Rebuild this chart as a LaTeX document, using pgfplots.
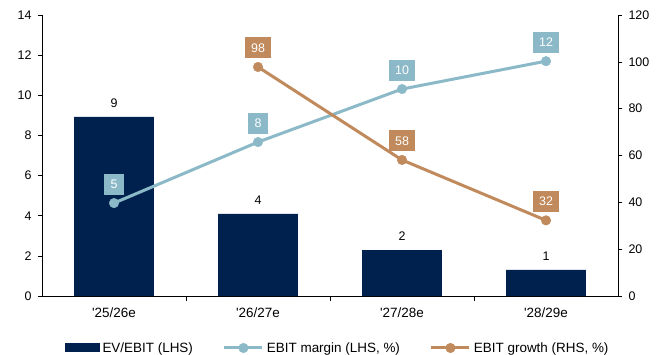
\documentclass[border=0pt]{standalone}
\usepackage{fontspec}
\setmainfont{Liberation Sans}
\usepackage{pgfplots}
\pgfplotsset{compat=1.18}

\definecolor{evnavy}{RGB}{0,32,78}
\definecolor{marginblue}{RGB}{139,185,200}
\definecolor{growthtan}{RGB}{192,138,92}

\pgfplotsset{
  base/.style={
    at={(0,0)}, anchor=south west,
    scale only axis, width=576bp, height=281bp,
    xmin=-0.5, xmax=3.5,
    tick align=outside,
    tick style={black, line width=0.6pt},
    major tick length=4bp, minor tick length=5bp,
    axis line style={black, line width=0.6pt},
    xticklabel style={font=\fontsize{13.5}{15}\selectfont, yshift=-4bp},
    /pgf/number format/assume math mode=true,
  },
  linelegend/.style={
    legend image code/.code={
      \draw[mark repeat=2,mark phase=2,##1] plot coordinates {(0bp,0bp) (19bp,0bp) (38bp,0bp)};
    }
  },
  boxlabel/.style={
    nodes near coords={\pgfmathprintnumber[fixed,precision=0]{\pgfplotspointmeta}},
    every node near coord/.append style={
      anchor=center, yshift=19bp, fill=#1, text=white,
      minimum height=21bp, minimum width=19bp, inner xsep=6.5bp, inner ysep=0pt,
      font=\fontsize{12.5}{14}\selectfont
    },
  },
  lineplot/.style={
    color=#1, line width=3bp, mark=*, mark size=4.8bp,
    mark options={solid, fill=#1, draw=#1, line width=0.4bp},
  },
}

\begin{document}
\begin{tikzpicture}[x=1bp,y=1bp]
\useasboundingbox (-42,-58) rectangle (617,296);

% left axis: EV/EBIT bars and EBIT margin
\begin{axis}[
  base,
  ymin=0, ymax=14, ytick={0,2,...,14},
  yticklabel style={font=\fontsize{12.5}{14}\selectfont, xshift=-3bp},
  axis x line*=bottom, axis y line*=left,
  xtick={0,1,2,3},
  xticklabels={\textquotesingle25/26e,\textquotesingle26/27e,\textquotesingle27/28e,\textquotesingle28/29e},
  major x tick style={draw=none},
  minor xtick={0.5,1.5,2.5},
  legend style={
    at={(0.513,-0.185)}, anchor=center, draw=none, fill=none,
    legend columns=3, font=\fontsize{13.5}{15}\selectfont,
    /tikz/every even column/.append style={column sep=28bp},
    /tikz/every odd column/.append style={column sep=1bp},
    inner sep=0pt,
  },
  legend cell align=left,
]
\addplot[
  ybar, bar width=0.555, fill=evnavy, draw=none,
  nodes near coords={\pgfmathprintnumber[fixed,precision=0]{\pgfplotspointmeta}},
  every node near coord/.append style={black, anchor=south, yshift=6bp, font=\fontsize{12.5}{14}\selectfont},
  legend image code/.code={\fill[evnavy] (0bp,-4.5bp) rectangle (35bp,4.5bp);},
] coordinates {(0,8.92) (1,4.09) (2,2.29) (3,1.30)};
\addlegendentry{EV/EBIT (LHS)}

\addplot[lineplot=marginblue, boxlabel=marginblue, linelegend]
  coordinates {(0,4.63) (1,7.67) (2,10.31) (3,11.70)};
\addlegendentry{EBIT margin (LHS, \%)}

\addlegendimage{lineplot=growthtan, linelegend}
\addlegendentry{EBIT growth (RHS, \%)}
\end{axis}

% right axis: EBIT growth
\begin{axis}[
  base,
  ymin=0, ymax=120, ytick={0,20,...,120},
  yticklabel style={font=\fontsize{12.5}{14}\selectfont, xshift=3bp},
  axis y line*=right, axis x line=none,
]
\addplot[lineplot=growthtan, boxlabel=growthtan]
  coordinates {(1,97.8) (2,58.1) (3,32.3)};
\end{axis}
\end{tikzpicture}
\end{document}
